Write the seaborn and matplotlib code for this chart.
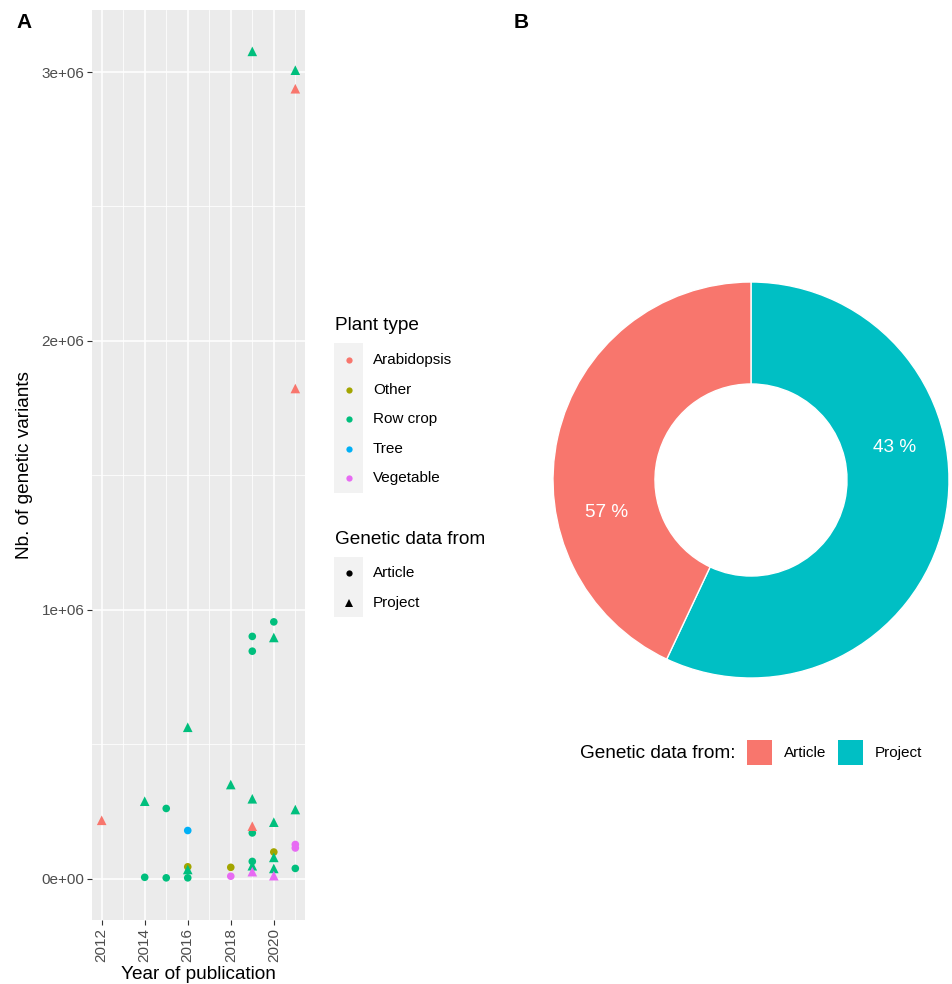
import numpy as np
import pandas as pd
import seaborn as sns
import matplotlib
matplotlib.use("Agg")
import matplotlib.pyplot as plt
from matplotlib.lines import Line2D
from matplotlib.patches import Rectangle

# ---- data ----
years = [2012, 2014, 2014, 2015, 2015, 2016, 2016, 2016, 2016, 2016,
         2018, 2018, 2018, 2019, 2019, 2019, 2019, 2019, 2019, 2019,
         2019, 2019, 2020, 2020, 2020, 2020, 2020, 2020, 2020, 2021,
         2021, 2021, 2021, 2021, 2021, 2021]
variants = [217000, 288000, 5000, 261000, 3000, 563000, 179000, 44000, 34000, 3000,
            350000, 42000, 9000, 3077000, 901000, 846000, 297000, 195000, 170000, 64000,
            48000, 26000, 955000, 897000, 210000, 99000, 79000, 38000, 11000, 3007000,
            2938000, 1823000, 257000, 127000, 114000, 38000]
plant = ["Arabidopsis", "Row crop", "Row crop", "Row crop", "Row crop", "Row crop", "Tree", "Other", "Row crop", "Row crop",
         "Row crop", "Other", "Vegetable", "Row crop", "Row crop", "Row crop", "Row crop", "Arabidopsis", "Row crop", "Row crop",
         "Row crop", "Vegetable", "Row crop", "Row crop", "Row crop", "Other", "Row crop", "Row crop", "Vegetable", "Row crop",
         "Arabidopsis", "Arabidopsis", "Row crop", "Vegetable", "Vegetable", "Row crop"]
source = ["Project", "Project", "Article", "Article", "Article", "Project", "Article", "Article", "Project", "Article",
          "Project", "Article", "Article", "Project", "Article", "Article", "Project", "Project", "Article", "Article",
          "Project", "Project", "Article", "Project", "Project", "Article", "Project", "Project", "Project", "Project",
          "Project", "Project", "Project", "Article", "Article", "Article"]

plant_types = ["Arabidopsis", "Other", "Row crop", "Tree", "Vegetable"]
plant_colors = ["#F8766D", "#A3A500", "#00BF7D", "#00B0F6", "#E76BF3"]
sources = ["Article", "Project"]
source_markers = ["o", "^"]
source_colors = ["#F8766D", "#00BFC4"]

# donut: wedge shares and the percent labels as printed on the figure
wedge_pct = [43, 57]      # Article, Project
label_pct = [57, 43]      # Article, Project

df = pd.DataFrame({"year": years, "variants": variants, "plant": plant, "source": source})

W, H = 952, 984
fig = plt.figure(figsize=(W / 100, H / 100), dpi=100)
plt.rcParams["font.family"] = ["Liberation Sans", "DejaVu Sans"]


def fx(x):
    return x / W


def fy(y):
    return 1 - y / H


TITLE = 13.7
TICK = 11

# ---- panel A ----
ax = fig.add_axes([fx(92), fy(920), fx(305 - 92), (920 - 10) / H])
ax.set_facecolor("#EBEBEB")
for s in ax.spines.values():
    s.set_visible(False)
ax.set_xticks([2012, 2014, 2016, 2018, 2020])
ax.set_xticks([2013, 2015, 2017, 2019, 2021], minor=True)
ax.set_yticks([0, 1e6, 2e6, 3e6])
ax.set_yticks([0.5e6, 1.5e6, 2.5e6], minor=True)
ax.grid(True, which="major", color="white", linewidth=1.1, zorder=0)
ax.grid(True, which="minor", color="white", linewidth=0.55, zorder=0)
ax.set_axisbelow(True)

pal = dict(zip(plant_types, plant_colors))
# ggplot's filled triangle reads bigger than its circle, so two passes
for src, mk, size in zip(sources, source_markers, [30, 48]):
    sns.scatterplot(data=df[df["source"] == src], x="year", y="variants", hue="plant",
                    hue_order=plant_types, palette=pal, marker=mk,
                    s=size, linewidth=0, legend=False, ax=ax, zorder=3)

span = max(years) - min(years)
ax.set_xlim(min(years) - 0.05 * span, max(years) + 0.05 * span)
ax.set_ylim(-0.05 * max(variants), 1.05 * max(variants))
ax.set_yticklabels(["0e+00", "1e+06", "2e+06", "3e+06"])
ax.tick_params(which="major", length=3.5, width=0.8, color="#333333",
               labelcolor="#4D4D4D", labelsize=TICK, pad=2)
ax.tick_params(which="minor", length=0)
for lab in ax.get_xticklabels():
    lab.set_rotation(90)
ax.set_xlabel("Year of publication", fontsize=TITLE, labelpad=3)
ax.set_ylabel("Nb. of genetic variants", fontsize=TITLE, labelpad=6)

# legend for panel A (ggplot style)
fig.text(fx(335), fy(326), "Plant type", fontsize=TITLE, va="center", ha="left")
fig.add_artist(Rectangle((fx(334), fy(493)), fx(29), (493 - 343) / H,
                         transform=fig.transFigure, facecolor="#F2F2F2", edgecolor="none"))
for i, (name, col) in enumerate(zip(plant_types, plant_colors)):
    yy = 360 + i * 29.6
    fig.add_artist(Line2D([fx(349)], [fy(yy)], marker="o", markersize=4.5, color=col,
                          markeredgewidth=0, linestyle="none", transform=fig.transFigure))
    fig.text(fx(373), fy(yy), name, fontsize=TICK, va="center", ha="left")

fig.text(fx(335), fy(539), "Genetic data from", fontsize=TITLE, va="center", ha="left")
fig.add_artist(Rectangle((fx(334), fy(617)), fx(29), (617 - 557) / H,
                         transform=fig.transFigure, facecolor="#F2F2F2", edgecolor="none"))
for i, (name, mk, ms) in enumerate(zip(sources, source_markers, [4.5, 6])):
    yy = 573 + i * 29.6
    fig.add_artist(Line2D([fx(349)], [fy(yy)], marker=mk, markersize=ms, color="black",
                          markeredgewidth=0, linestyle="none", transform=fig.transFigure))
    fig.text(fx(373), fy(yy), name, fontsize=TICK, va="center", ha="left")

# ---- panel B (donut) ----
ax2 = fig.add_axes([fx(551), fy(680), fx(400), 400 / H])
order = [1, 0]  # Project drawn first, clockwise from 12 o'clock
ax2.pie([wedge_pct[i] for i in order], colors=[source_colors[i] for i in order],
        startangle=90, counterclock=False, radius=1,
        wedgeprops=dict(width=0.515, edgecolor="white", linewidth=1))
# label positions as computed in the original (cumulative of label values)
cum = 0
for i in order:
    mid = (cum + label_pct[i] / 2) / 100
    cum += label_pct[i]
    ang = np.pi / 2 - 2 * np.pi * mid
    r = 0.745
    ax2.text(r * np.cos(ang), r * np.sin(ang), f"{label_pct[i]} %", color="white",
             fontsize=TITLE, ha="center", va="center")
ax2.set_xlim(-1.0101, 1.0101)
ax2.set_ylim(-1.0101, 1.0101)
ax2.set_aspect("equal")
ax2.axis("off")

# legend for panel B
fig.text(fx(580), fy(753), "Genetic data from:", fontsize=TITLE, va="center", ha="left")
for (name, col, x0) in zip(sources, source_colors, [747, 838]):
    fig.add_artist(Rectangle((fx(x0), fy(765)), fx(25), 25 / H, transform=fig.transFigure,
                             facecolor=col, edgecolor="none"))
    fig.text(fx(x0 + 37), fy(753), name, fontsize=TICK, va="center", ha="left")

# panel tags
fig.text(fx(16), fy(22), "A", fontsize=15, fontweight="bold", va="center", ha="left")
fig.text(fx(514), fy(22), "B", fontsize=15, fontweight="bold", va="center", ha="left")

fig.savefig("out.png", dpi=100, facecolor="white")
